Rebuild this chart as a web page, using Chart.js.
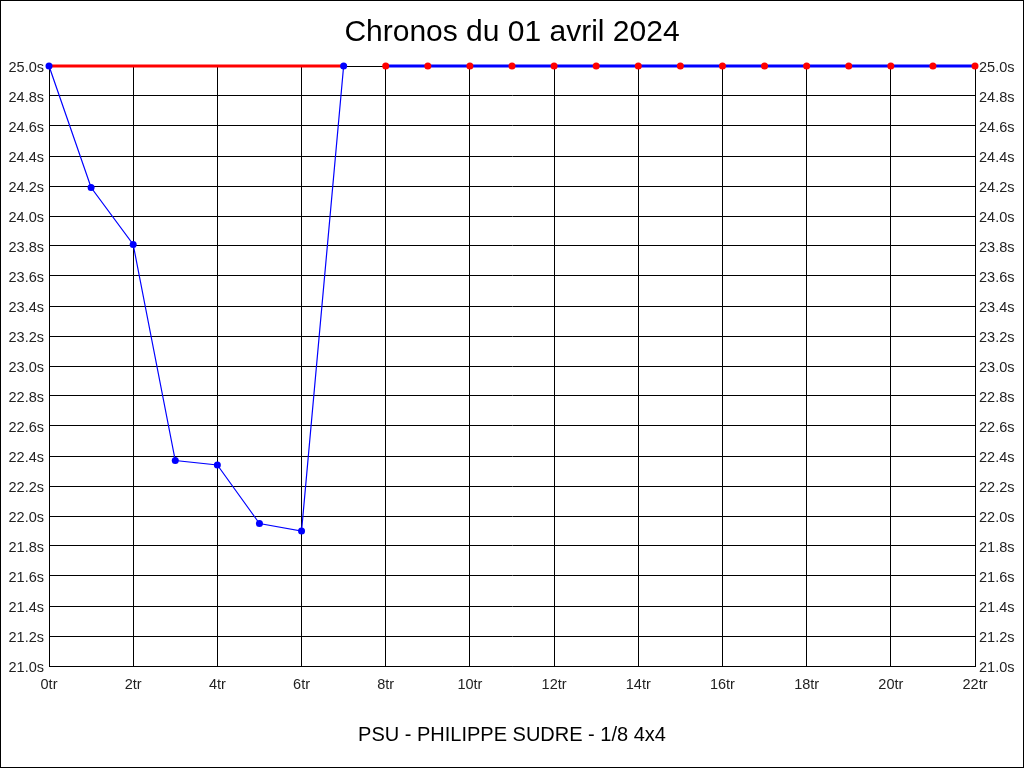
<!DOCTYPE html>
<html>
<head>
<meta charset="utf-8">
<script src="https://cdn.jsdelivr.net/npm/chart.js@4/dist/chart.umd.min.js"></script>
<style>
  html, body { margin: 0; padding: 0; background: #fff; }
  #wrap { width: 1024px; height: 768px; }
</style>
</head>
<body>
<div id="wrap"><canvas id="myChart" width="1024" height="768"></canvas></div>
<script>
// tours 0..7 : chronos of the session
const tours = [0, 1, 2, 3, 4, 5, 6, 7];
const chronos = [25.0, 24.19, 23.81, 22.37, 22.34, 21.95, 21.90, 25.0];

// red reference line over the first tours
const refTours = [0, 7];
const refChronos = [25.0, 25.0];

// remaining tours, not run
const restTours = [8, 9, 10, 11, 12, 13, 14, 15, 16, 17, 18, 19, 20, 21, 22];
const restChronos = [25.0, 25.0, 25.0, 25.0, 25.0, 25.0, 25.0, 25.0, 25.0, 25.0, 25.0, 25.0, 25.0, 25.0, 25.0];

const yMin = 21.0, yMax = 25.0, yStep = 0.2;
const xMin = 0, xMax = 22, xStep = 2;

const titleText = 'Chronos du 01 avril 2024';
const pilotText = 'PSU - PHILIPPE SUDRE - 1/8 4x4';

function toPoints(xs, ys) {
  return xs.map((x, i) => ({ x: x, y: ys[i] }));
}

// black frame round the picture
const framePlugin = {
  id: 'frame',
  afterDraw(chart) {
    const ctx = chart.ctx;
    ctx.save();
    ctx.strokeStyle = '#000';
    ctx.lineWidth = 1;
    ctx.strokeRect(0.5, 0.5, chart.width - 1, chart.height - 1);
    ctx.restore();
  }
};

const font = 'Arial, "Liberation Sans", sans-serif';

let ctx = document.getElementById('myChart').getContext('2d');
let myChart = new Chart(ctx, {
  type: 'line',
  data: {
    datasets: [{
      data: toPoints(tours, chronos),
      borderColor: '#0000ff',
      borderWidth: 1.2,
      pointRadius: 3.5,
      pointBackgroundColor: '#0000ff',
      pointBorderColor: '#0000ff',
      pointBorderWidth: 0,
      clip: false,
      order: 1
    }, {
      data: toPoints(restTours, restChronos),
      borderColor: '#0000ff',
      borderWidth: 3,
      pointRadius: 3.5,
      pointBackgroundColor: '#ff0000',
      pointBorderColor: '#ff0000',
      pointBorderWidth: 0,
      clip: false,
      order: 2
    }, {
      data: toPoints(refTours, refChronos),
      borderColor: '#ff0000',
      borderWidth: 3,
      pointRadius: 0,
      clip: false,
      order: 3
    }]
  },
  options: {
    responsive: false,
    animation: false,
    events: [],
    layout: { padding: 0 },
    scales: {
      x: {
        type: 'linear',
        min: xMin,
        max: xMax,
        afterFit: (scale) => { scale.height = 49; },
        grid: { color: '#000', lineWidth: 1, drawTicks: false },
        border: { color: '#000', width: 1 },
        ticks: {
          stepSize: xStep,
          padding: 10,
          color: '#222',
          font: { family: font, size: 14.5 },
          maxRotation: 0,
          callback: (v) => v + 'tr'
        }
      },
      y: {
        position: 'left',
        min: yMin,
        max: yMax,
        afterFit: (scale) => { scale.width = 49; },
        grid: { color: '#000', lineWidth: 1, drawTicks: false },
        border: { color: '#000', width: 1 },
        ticks: {
          stepSize: yStep,
          padding: 5,
          labelOffset: 1.5,
          color: '#222',
          font: { family: font, size: 14.5 },
          callback: (v) => v.toFixed(1) + 's'
        }
      },
      y2: {
        position: 'right',
        min: yMin,
        max: yMax,
        afterFit: (scale) => { scale.width = 49; },
        grid: { display: false, drawTicks: false },
        border: { color: '#000', width: 1 },
        ticks: {
          stepSize: yStep,
          padding: 4,
          labelOffset: 1.5,
          color: '#222',
          font: { family: font, size: 14.5 },
          callback: (v) => v.toFixed(1) + 's'
        }
      }
    },
    plugins: {
      legend: { display: false },
      tooltip: { enabled: false },
      title: {
        display: true,
        text: titleText,
        color: '#000',
        font: { family: font, size: 30, weight: 'normal' },
        padding: { top: 15, bottom: 15 }
      },
      subtitle: {
        display: true,
        position: 'bottom',
        text: pilotText,
        color: '#000',
        font: { family: font, size: 20, weight: 'normal' },
        padding: { top: 8, bottom: 21 }
      }
    }
  },
  plugins: [framePlugin]
});
</script>
</body>
</html>
